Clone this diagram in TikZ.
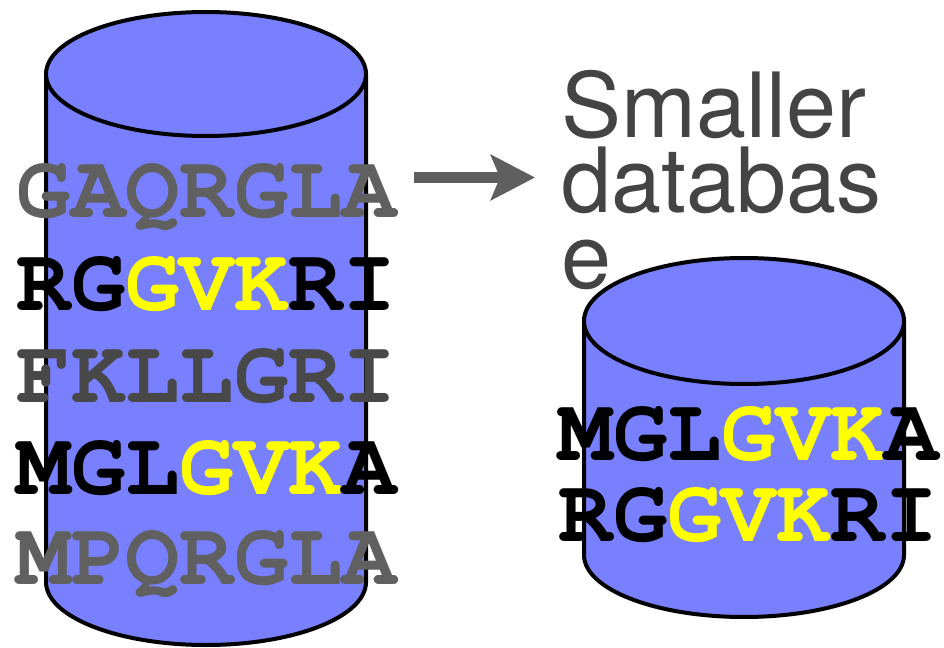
\documentclass[tikz,border=0pt]{standalone}
\usepackage[T1]{fontenc}
\usepackage{fontspec}
\usetikzlibrary{arrows.meta}
\newfontfamily\labelfont{TeX Gyre Heros}
\newcommand\seqfont{\fontencoding{T1}\fontfamily{pcr}\bfseries}
\definecolor{dbblue}{RGB}{120,128,255}
\definecolor{seqyellow}{RGB}{255,255,0}
\definecolor{seqgray}{RGB}{96,96,96}
\definecolor{seqdark}{RGB}{72,72,72}
\definecolor{labelgray}{RGB}{68,68,68}
\definecolor{arrowgray}{RGB}{95,95,95}
\tikzset{
  dbline/.style={line width=2pt, draw=black, fill=dbblue},
  seq/.style={anchor=base, inner sep=0pt, font=\seqfont\fontsize{45.25}{45.25}\selectfont}
}
\begin{document}
\begin{tikzpicture}[x=0.5pt, y=-0.5pt]
                \useasboundingbox (0,0) rectangle (944,648);

                % Draw the big database
                \draw[dbline] (46,74) -- (46,582) arc (180:0:160 and 63) -- (366,74);
                \draw[dbline] (206,74) ellipse (160 and 62);

                % Draw the smaller database
                \draw[dbline] (584,321) -- (584,555) arc (180:0:160 and 62) -- (904,321);
                \draw[dbline] (744,321) ellipse (160 and 63);

                % Sequences in the big database
                \node[seq, text=seqgray] (gaqrgla) at (207,217) {GAQRGLA};
                \node[seq] (rggvkri) at (207,310) {RG\textcolor{seqyellow}{GVK}RI};
                \node[seq, text=seqdark] (fkllgri) at (207,402) {FKLLGRI};
                \node[seq] (mglgvka) at (207,494) {MGL\textcolor{seqyellow}{GVK}A};
                \node[seq, text=seqgray] (mpqrgla) at (207,584) {MPQRGLA};

                % Sequences in the smaller database
                \node[seq] (smallmglgvka) at (749,460) {MGL\textcolor{seqyellow}{GVK}A};
                \node[seq] (smallrggvkri) at (749,541) {RG\textcolor{seqyellow}{GVK}RI};

                % Label
                \node[anchor=base west, inner sep=0pt, align=left, text=labelgray,
                      font=\labelfont\fontsize{45}{37.75}\selectfont] (smaller) at (561,288) {Smaller\\databas\\e};

                % Arrow
                \coordinate (arrowtail) at (414,177.5);
                \coordinate (arrowhead) at (535,177.5);
                \draw[arrowgray, line width=5.5pt, -{Stealth[length=22pt, width=22.5pt, inset=4.5pt]}] (arrowtail) -- (arrowhead);

\end{tikzpicture}
\end{document}
